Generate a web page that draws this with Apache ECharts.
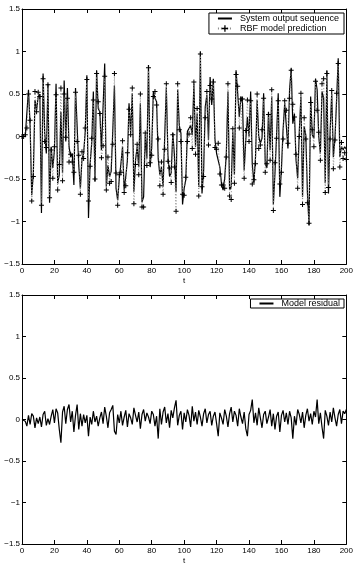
<!DOCTYPE html>
<html>
<head>
<meta charset="utf-8">
<script src="https://cdn.jsdelivr.net/npm/echarts@6/dist/echarts.min.js"></script>
<style>html,body{margin:0;padding:0;background:#fff}#c{width:356px;height:566px}</style>
</head>
<body>
<div id="c"></div>
<script>
// ---- data ----
const systemOutput = [
0,0,0,0.02,0.55,0.13,-0.69,-0.43,0.43,0.31,
0.47,0.50,-0.90,0.74,0.04,-0.20,0.62,-0.78,-0.12,-0.37,
-0.16,0.62,-0.55,-0.45,0.29,-0.43,0.66,-0.06,0.57,-0.12,
-0.24,-0.20,-0.57,0.57,0.12,-0.34,-0.61,-0.26,-0.20,0.06,
0.72,-0.96,-0.32,-0.08,0.53,-0.53,0.78,0.33,0.29,-0.16,
-0.16,0.86,-0.59,-0.34,-0.47,-0.41,0.08,0.60,-0.61,-0.75,
-0.49,-0.32,-0.12,-0.63,-0.47,-0.28,0.39,0.04,0.51,-0.65,
-0.28,-0.12,-0.36,0.39,-0.77,-0.71,0.02,-0.26,0.84,-0.36,
-0.12,0.53,0.45,0.41,-0.26,-0.45,-0.36,-0.59,0,0.58,
-0.22,-0.47,-0.43,0.04,-0.22,-0.65,0.55,0.13,0.04,-0.80,
-0.61,-0.51,0.06,0.08,0.13,0.02,0.62,-0.12,0.27,-0.59,
1.00,-0.67,-0.40,0.35,0.49,-0.04,0.70,0.37,0.68,-0.04,
-0.20,-0.28,-0.36,-0.55,-0.63,-0.49,-0.20,0.53,-0.63,-0.59,
0.06,-0.45,0.78,0.51,0.23,0.47,0.39,-0.40,-0.04,0.23,
0,0.53,-0.32,-0.55,-0.24,0.43,0,-0.08,-0.02,0.51,
-0.32,-0.37,0.29,-0.16,0.47,-0.80,-0.43,0.02,0.51,-0.71,
-0.37,0.08,0.39,0.39,-0.14,0.55,0.80,0.15,0.27,-0.28,
-0.49,0.06,0.47,-0.71,0.12,0.02,-0.65,-1.04,0.47,0.02,
-0.02,0.68,0.55,0,-0.20,0.53,0.45,-0.55,0.78,-0.67,
0.06,0.51,-0.24,-0.02,0.43,0.92,-0.24,-0.12,-0.16,-0.12,
-0.15
];
const rbfPrediction = [
0,0,0.02,0.10,0.50,0.19,-0.76,-0.47,0.53,0.29,
0.52,0.47,-0.81,0.68,-0.06,-0.13,0.61,-0.72,-0.16,-0.49,
-0.12,0.49,-0.63,-0.33,0.57,-0.52,0.50,-0.01,0.45,-0.30,
-0.21,-0.30,-0.42,0.52,-0.06,-0.22,-0.68,-0.18,-0.26,0.10,
0.67,-0.76,-0.35,-0.02,0.43,-0.50,0.74,0.41,0.27,-0.25,
-0.11,0.71,-0.63,-0.24,-0.55,-0.53,-0.09,0.74,-0.43,-0.81,
-0.45,-0.42,-0.05,-0.66,-0.58,-0.19,0.32,0.02,0.57,-0.79,
-0.33,-0.09,-0.45,0.50,-0.83,-0.83,0.04,-0.34,0.81,-0.31,
-0.22,0.47,0.53,0.37,-0.03,-0.58,-0.30,-0.68,-0.15,0.62,
-0.29,-0.37,-0.54,0.02,-0.36,-0.88,0.62,0.08,-0.06,-0.68,
-0.69,-0.48,-0.06,0.03,0.22,-0.14,0.64,-0.21,0.33,-0.70,
0.97,-0.59,-0.47,0.22,0.53,-0.10,0.60,0.44,0.64,-0.13,
-0.15,-0.08,-0.44,-0.57,-0.57,-0.61,-0.24,0.62,-0.70,-0.74,
0.09,-0.55,0.73,0.59,0.10,0.44,0.44,-0.49,0.07,0.43,
-0.06,0.42,-0.56,-0.51,-0.32,0.50,-0.14,-0.10,0.08,0.45,
-0.42,-0.32,0.26,-0.28,0.55,-0.87,-0.31,-0.02,0.42,-0.56,
-0.42,-0.03,0.42,0.31,-0.08,0.45,0.78,0.38,0.23,-0.21,
-0.61,0.00,0.51,-0.80,0.22,-0.03,-0.78,-1.02,0.40,0.08,
-0.12,0.65,0.31,0.05,-0.28,0.62,0.68,-0.66,0.74,-0.60,
-0.03,0.54,-0.38,-0.04,0.51,0.86,-0.36,-0.07,-0.26,-0.19,
-0.27
];
const modelResidual = [
0.00,0.00,-0.02,-0.08,0.05,-0.06,0.07,0.04,-0.10,0.02,
-0.05,0.03,-0.09,0.06,0.10,-0.07,0.01,-0.06,0.04,0.12,
-0.04,0.13,0.08,-0.12,-0.28,0.09,0.16,-0.05,0.12,0.18,
-0.03,0.10,-0.15,0.05,0.18,-0.12,0.07,-0.08,0.06,-0.04,
0.05,-0.20,0.03,-0.06,0.10,-0.03,0.04,-0.08,0.02,0.09,
-0.05,0.15,0.04,-0.10,0.08,0.12,0.17,-0.14,-0.18,0.06,
-0.04,0.10,-0.07,0.03,0.11,-0.09,0.07,0.02,-0.06,0.14,
0.05,-0.03,0.09,-0.11,0.06,0.12,-0.02,0.08,0.03,-0.05,
0.10,0.06,-0.08,0.04,-0.23,0.13,-0.06,0.09,0.15,-0.04,
0.07,-0.10,0.11,0.02,0.14,0.23,-0.07,0.05,0.10,-0.12,
0.08,-0.03,0.12,0.05,-0.09,0.16,-0.02,0.09,-0.06,0.11,
0.03,-0.08,0.07,0.13,-0.04,0.06,0.10,-0.07,0.04,0.09,
-0.05,-0.20,0.08,0.02,-0.06,0.12,0.04,-0.09,0.07,0.15,
-0.03,0.10,0.05,-0.08,0.13,0.03,-0.05,0.09,-0.11,-0.20,
0.06,0.11,0.24,-0.04,0.08,-0.07,0.14,0.02,-0.10,0.06,
0.10,-0.05,0.03,0.12,-0.08,0.07,-0.12,0.04,0.09,-0.15,
0.05,0.11,-0.03,0.08,-0.06,0.10,0.02,-0.23,0.04,-0.07,
0.12,0.06,-0.04,0.09,-0.10,0.05,0.13,-0.02,0.07,-0.06,
0.10,0.03,0.24,-0.05,0.08,-0.09,-0.23,0.11,0.04,-0.07,
0.09,-0.03,0.14,0.02,-0.08,0.06,0.12,-0.05,0.10,0.07,
0.12
];
const xTickLabels = ['0','20','40','60','80','100','120','140','160','180','200'];
const yTickLabels = ['\u22121.5','\u22121','\u22120.5','0','0.5','1','1.5'];
const seriesNames = ['System output sequence','RBF model prediction','Model residual'];

// ---- chart ----
const pairs = arr => arr.map((v, i) => [i, v]);
const font = 'Liberation Sans, Arial, sans-serif';
const yLabel = v => yTickLabels[Math.round((v + 1.5) / 0.5)];
const xLabel = v => xTickLabels[Math.round(v / 20)];

function xAx(grid, pos, labels) {
  return {
    type: 'value', gridIndex: grid, position: pos, min: 0, max: 200, interval: 20,
    name: labels ? 't' : '', nameLocation: 'middle', nameGap: 13,
    nameTextStyle: {color: '#000', fontSize: 8, fontFamily: font},
    axisLine: {show: true, onZero: false, lineStyle: {color: '#000', width: 1}},
    axisTick: {show: true, inside: true, length: 4, lineStyle: {color: '#000'}},
    axisLabel: {show: labels, color: '#000', fontSize: 8, fontFamily: font, margin: 3, formatter: xLabel},
    splitLine: {show: false}
  };
}
function yAx(grid, pos, labels) {
  return {
    type: 'value', gridIndex: grid, position: pos, min: -1.5, max: 1.5, interval: 0.5,
    axisLine: {show: true, onZero: false, lineStyle: {color: '#000', width: 1}},
    axisTick: {show: true, inside: true, length: 4, lineStyle: {color: '#000'}},
    axisLabel: {show: labels, color: '#000', fontSize: 8, fontFamily: font, margin: 2, formatter: yLabel},
    splitLine: {show: false}
  };
}
const plusPath = 'path://M4,0H6V4H10V6H6V10H4V6H0V4H4Z';
const hidden = {color: 'rgba(0,0,0,0)', borderColor: 'rgba(0,0,0,0)', borderWidth: 0};
const legendBase = {
  orient: 'vertical', right: 12,
  backgroundColor: '#fff', borderColor: '#000', borderWidth: 1, borderRadius: 0,
  itemGap: 1, itemWidth: 14, itemHeight: 8,
  textStyle: {color: '#000', fontSize: 9, fontFamily: font, padding: [0, 0, 0, 3]}
};

const chart = echarts.init(document.getElementById('c'), null, {renderer: 'canvas'});
chart.setOption({
  animation: false,
  backgroundColor: '#fff',
  grid: [
    {left: 22, right: 9, top: 9, height: 255},
    {left: 22, right: 9, top: 295, height: 255}
  ],
  xAxis: [xAx(0, 'bottom', true), xAx(0, 'top', false), xAx(1, 'bottom', true), xAx(1, 'top', false)],
  yAxis: [yAx(0, 'left', true), yAx(0, 'right', false), yAx(1, 'left', true), yAx(1, 'right', false)],
  legend: [
    Object.assign({}, legendBase, {
      top: 13, padding: [1, 5, 1, 8],
      data: [
        {name: seriesNames[0], itemStyle: hidden},
        {name: seriesNames[1]}
      ]
    }),
    Object.assign({}, legendBase, {
      top: 299, padding: [0, 4, 0, 8],
      data: [{name: seriesNames[2], itemStyle: hidden}]
    })
  ],
  series: [
    {
      name: seriesNames[0], type: 'line', xAxisIndex: 0, yAxisIndex: 0,
      data: pairs(systemOutput), showSymbol: false, symbol: 'none',
      lineStyle: {color: '#000', width: 1.2}, itemStyle: {color: '#000'}
    },
    {
      name: seriesNames[1], type: 'line', xAxisIndex: 0, yAxisIndex: 0,
      data: pairs(rbfPrediction), symbol: plusPath, symbolSize: 5, showSymbol: true,
      lineStyle: {color: '#888', width: 1, type: [1, 2]}, itemStyle: {color: '#000'}
    },
    {
      name: seriesNames[2], type: 'line', xAxisIndex: 2, yAxisIndex: 2,
      data: pairs(modelResidual), showSymbol: false, symbol: 'none',
      lineStyle: {color: '#000', width: 1.2}, itemStyle: {color: '#000'}
    }
  ]
});
</script>
</body>
</html>
